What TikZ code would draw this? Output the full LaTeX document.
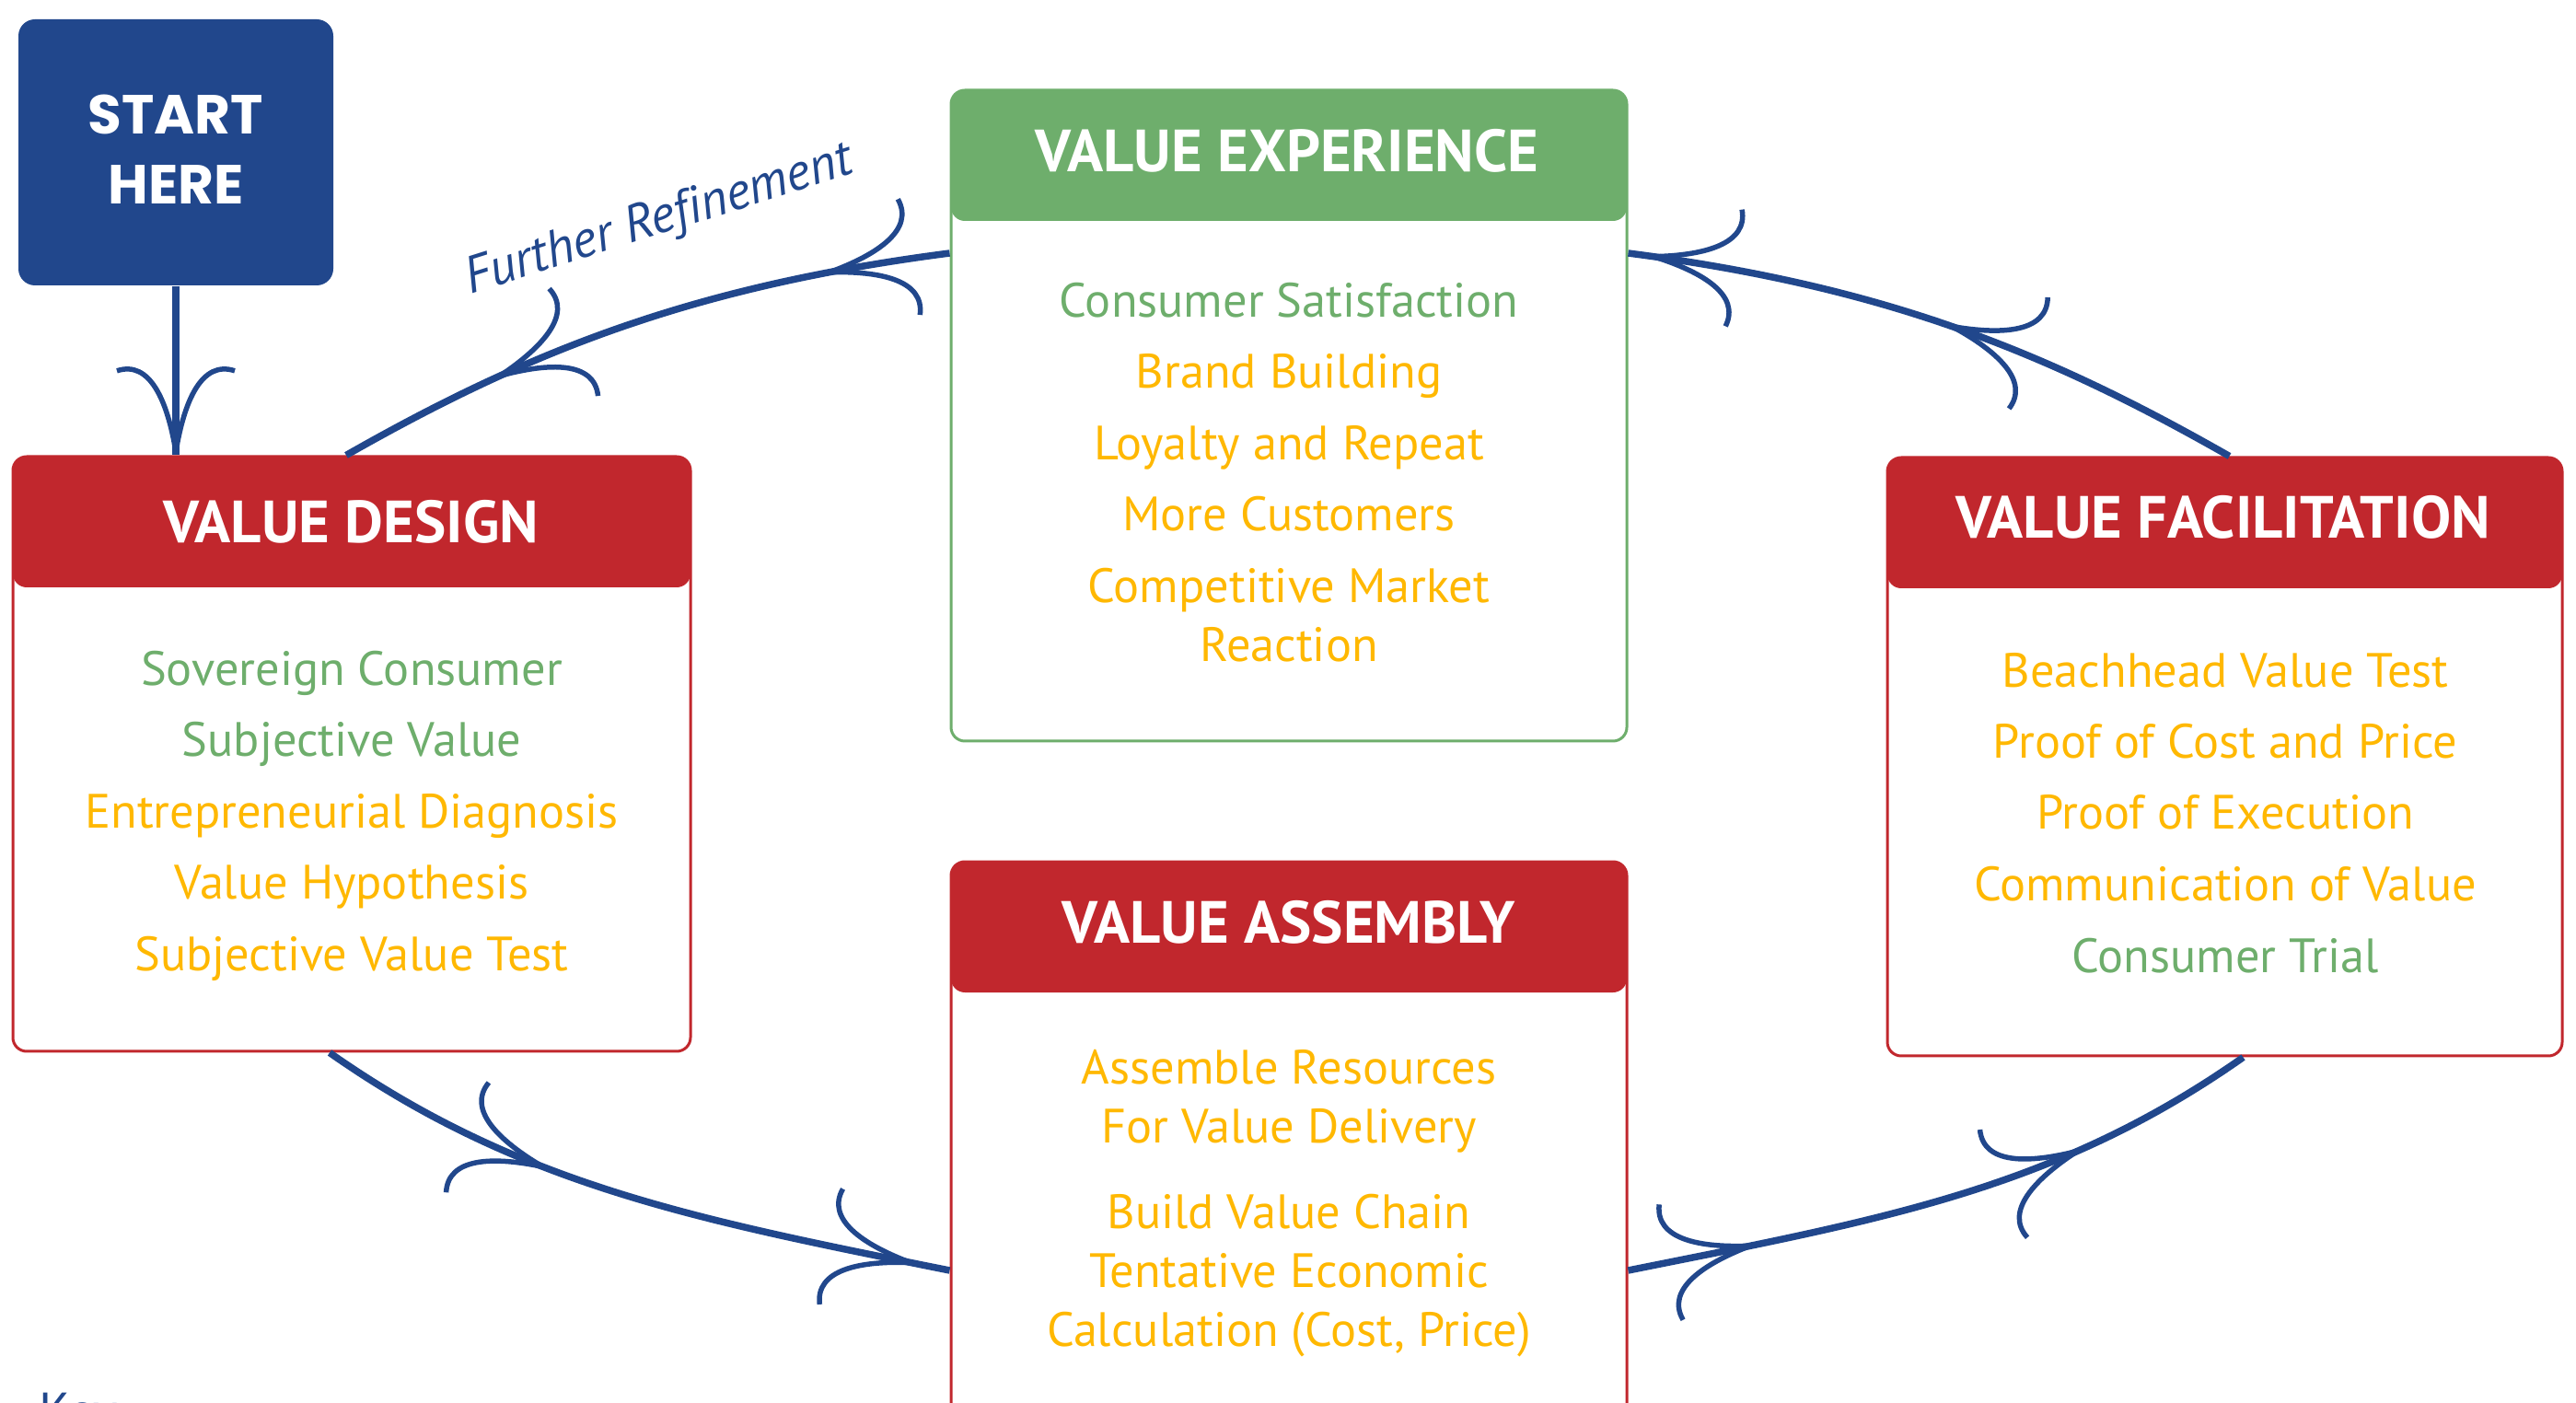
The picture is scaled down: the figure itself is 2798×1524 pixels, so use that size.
\documentclass[tikz,border=0pt]{standalone}
\usepackage{fontspec}
\setmainfont{PT Sans}
\newfontfamily\startfont{Poppins}
\usetikzlibrary{decorations.markings}
\definecolor{navy}{RGB}{33,71,140}
\definecolor{vred}{RGB}{193,39,45}
\definecolor{vgreen}{RGB}{110,174,108}
\definecolor{vyellow}{RGB}{255,184,0}
\newcommand\barbhead{%
  \draw[barbtip] (0,0) .. controls (-55,9) and (-100,28) .. (-88,64);
  \draw[barbtip] (0,0) .. controls (-55,-9) and (-100,-28) .. (-88,-64);}
\tikzset{
  stagebox/.style={draw=#1, fill=white, line width=0.3mm, rounded corners=1.5mm, inner sep=0pt,
    path picture={\fill[#1] ([yshift=1mm]path picture bounding box.north west) rectangle
      ([yshift=-14.2mm]path picture bounding box.north east);}},
  head/.style={text=white, font=\fontsize{18.4pt}{21pt}\selectfont\bfseries, inner sep=0pt, anchor=base},
  item/.style={font=\fontsize{14.9pt}{18pt}\selectfont, inner sep=0pt, anchor=base},
  gitem/.style={item, text=vgreen},
  yitem/.style={item, text=vyellow},
  flow/.style={draw=navy, line width=0.75mm},
  barbtip/.style={draw=navy, line width=0.55mm},
  twoheads/.style 2 args={postaction={decorate, decoration={markings,
      mark=at position #1 with {\barbhead}, mark=at position #2 with {\barbhead}}}},
  onehead/.style={postaction={decorate, decoration={markings, mark=at position #1 with {\barbhead}}}},
}
\begin{document}
\begin{tikzpicture}[x=0.1mm, y=-0.1mm]
\useasboundingbox (0,0) rectangle (2798,1524);
\clip (0,0) rectangle (2798,1524);
\fill[white] (0,0) rectangle (2798,1524);

% boxes
\node[fill=navy, rounded corners=1.8mm, minimum width=34.2mm, minimum height=28.9mm, inner sep=0pt] (start) at (191,165.5) {};
\node[stagebox=vred, minimum width=73.6mm, minimum height=64.6mm] (vd) at (382,819) {};
\node[stagebox=vgreen, minimum width=73.4mm, minimum height=70.7mm] (ve) at (1400,451.5) {};
\node[stagebox=vred, minimum width=73.3mm, minimum height=65mm] (vf) at (2416.5,822) {};
\node[stagebox=vred, minimum width=73.4mm, minimum height=70.4mm] (va) at (1400,1288) {};

% start text
\node[text=white, font=\startfont\fontsize{17pt}{20pt}\selectfont\bfseries, inner sep=0pt, anchor=base] (st1) at (191,146) {START};
\node[text=white, font=\startfont\fontsize{17pt}{20pt}\selectfont\bfseries, inner sep=0pt, anchor=base] (st2) at (191,222) {HERE};

% headers
\node[head] (vdh) at (381,590) {VALUE DESIGN};
\node[head] (veh) at (1398,187) {VALUE EXPERIENCE};
\node[head] (vfh) at (2414.5,585) {VALUE FACILITATION};
\node[head] (vah) at (1400,1024) {VALUE ASSEMBLY};

% value design
\node[gitem] (vd1) at (382,745) {Sovereign Consumer};
\node[gitem] (vd2) at (382,822) {Subjective Value};
\node[yitem] (vd3) at (382,900) {Entrepreneurial Diagnosis};
\node[yitem] (vd4) at (382,977) {Value Hypothesis};
\node[yitem] (vd5) at (382,1054) {Subjective Value Test};

% value experience
\node[gitem] (ve1) at (1400,345) {Consumer Satisfaction};
\node[yitem] (ve2) at (1400,422) {Brand Building};
\node[yitem] (ve3) at (1400,500) {Loyalty and Repeat};
\node[yitem] (ve4) at (1400,577) {More Customers};
\node[yitem] (ve5) at (1400,655) {Competitive Market};
\node[yitem] (ve6) at (1400,719) {Reaction};

% value facilitation
\node[yitem] (vf1) at (2417,747) {Beachhead Value Test};
\node[yitem] (vf2) at (2417,824) {Proof of Cost and Price};
\node[yitem] (vf3) at (2417,901) {Proof of Execution};
\node[yitem] (vf4) at (2417,979) {Communication of Value};
\node[gitem] (vf5) at (2417,1056) {Consumer Trial};

% value assembly
\node[yitem] (va1) at (1400,1177) {Assemble Resources};
\node[yitem] (va2) at (1400,1241) {For Value Delivery};
\node[yitem] (va3) at (1400,1334) {Build Value Chain};
\node[yitem] (va4) at (1400,1398) {Tentative Economic};
\node[yitem] (va5) at (1400,1462) {Calculation (Cost, Price)};

% connectors
\draw[flow, onehead=0.98] (start.south) -- (start.south |- vd.north);
\draw[flow, twoheads={0.19}{0.73}] ([yshift=17.65mm]ve.west) .. controls +(-278,36) and +(200,-114) .. ([xshift=-0.6mm]vd.north);
\draw[flow, twoheads={0.48}{0.96}] ([xshift=0.5mm]vf.north) .. controls +(-200,-114) and +(278,36) .. ([yshift=17.65mm]ve.east);
\draw[flow, twoheads={0.366}{0.94}] ([xshift=-2.4mm]vd.south) .. controls +(205,144) and +(-274,-55) .. ([yshift=-9.2mm]va.west);
\draw[flow, twoheads={0.19}{0.71}] ([yshift=-9.2mm]va.east) .. controls +(274,-55) and +(-205,144) .. ([xshift=2mm]vf.south);

% labels
\node[text=navy, font=\fontsize{16pt}{19pt}\selectfont\itshape, inner sep=0pt, anchor=center, rotate=17.5] (fr) at (716,240) {Further Ref\kern0pt inement};
\node[text=navy, font=\fontsize{16pt}{19pt}\selectfont, inner sep=0pt, anchor=base west] (key) at (42,1552) {Key};
\end{tikzpicture}
\end{document}
